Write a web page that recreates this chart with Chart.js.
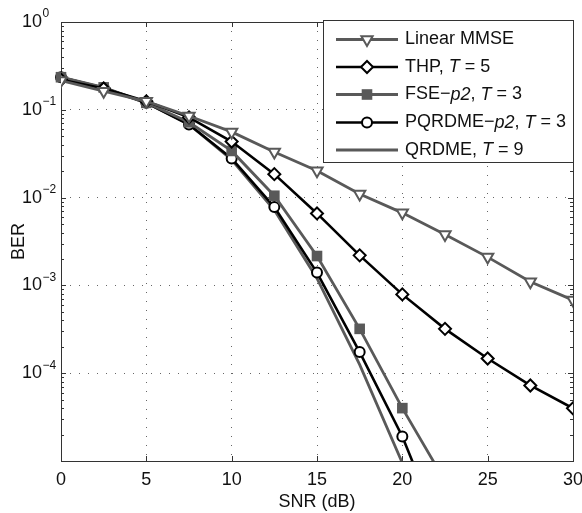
<!DOCTYPE html>
<html lang="en">
<head>
  <meta charset="UTF-8" />
  <title>BER vs SNR</title>
  <script src="https://cdn.jsdelivr.net/npm/chart.js"></script>
  <style>
    body {
      margin: 0;
      background: #fff;
    }
    #chart-container {
      width: 582px;
      height: 513px;
    }
  </style>
</head>
<body>

  <div id="chart-container">
    <canvas id="berChart" width="582" height="513"></canvas>
  </div>

  <script>
    // SNR points (dB)
    const snr = [0, 2.5, 5, 7.5, 10, 12.5, 15, 17.5, 20, 22.5, 25, 27.5, 30];

    // BER per scheme (null = not plotted)
    const linearMmse = [0.215, 0.163, 0.125, 0.085, 0.056, 0.033, 0.0202, 0.011, 0.0067, 0.0038, 0.0021, 0.0011, 0.00068];
    const thp = [0.22, 0.175, 0.125, 0.082, 0.0435, 0.0185, 0.0066, 0.0022, 0.00079, 0.00032, 0.000147, 0.0000725, 0.0000398];
    const fseP2 = [0.235, 0.18, 0.12, 0.072, 0.034, 0.0105, 0.00216, 0.00032, 0.00004, 0.0000059, null, null, null];
    const pqrdmeP2 = [0.235, 0.178, 0.12, 0.068, 0.0279, 0.0078, 0.0014, 0.000174, 0.000019, 0.0000012, null, null, null];
    const qrdme = [0.23, 0.175, 0.12, 0.068, 0.027, 0.0072, 0.0012, 0.000125, 0.0000095, 0.00000085, null, null, null];

    // legend text, parts flagged italic
    const legendLabels = [
      [['Linear MMSE', false]],
      [['THP, ', false], ['T', true], [' = 5', false]],
      [['FSE\u2212', false], ['p2', true], [', ', false], ['T', true], [' = 3', false]],
      [['PQRDME\u2212', false], ['p2', true], [', ', false], ['T', true], [' = 3', false]],
      [['QRDME, ', false], ['T', true], [' = 9', false]]
    ];

    // axis ticks
    const xTicks = [0, 5, 10, 15, 20, 25, 30];
    const yExponents = [0, -1, -2, -3, -4];
    const yMin = 1e-5;
    const yMax = 1;

    const GRAY = '#595959';
    const FONT = '"Liberation Sans", Arial, sans-serif';

    function series(values) {
      return values.map((v, i) => ({ x: snr[i], y: v }));
    }

    const clipBottom = { left: 10, top: 10, right: 10, bottom: 0 };

    const datasets = [
      {
        label: 'Linear MMSE',
        data: series(linearMmse),
        borderColor: GRAY,
        backgroundColor: '#fff',
        borderWidth: 2.8,
        pointStyle: 'triangle',
        rotation: 180,
        pointRadius: 6.5,
        pointBorderWidth: 2,
        pointBorderColor: GRAY,
        pointBackgroundColor: '#fff'
      },
      {
        label: 'THP, T = 5',
        data: series(thp),
        borderColor: '#000',
        borderWidth: 2.6,
        pointStyle: 'rectRot',
        pointRadius: 6,
        pointBorderWidth: 2,
        pointBorderColor: '#000',
        pointBackgroundColor: '#fff'
      },
      {
        label: 'FSE-p2, T = 3',
        data: series(fseP2),
        borderColor: GRAY,
        borderWidth: 2.8,
        pointStyle: 'rect',
        pointRadius: 7.5,
        pointBorderWidth: 0,
        pointBorderColor: GRAY,
        pointBackgroundColor: GRAY,
        clip: clipBottom
      },
      {
        label: 'PQRDME-p2, T = 3',
        data: series(pqrdmeP2),
        borderColor: '#000',
        borderWidth: 2.6,
        pointStyle: 'circle',
        pointRadius: 5,
        pointBorderWidth: 2,
        pointBorderColor: '#000',
        pointBackgroundColor: '#fff',
        clip: clipBottom
      },
      {
        label: 'QRDME, T = 9',
        data: series(qrdme),
        borderColor: GRAY,
        borderWidth: 2.8,
        pointRadius: 0,
        clip: clipBottom
      }
    ];

    // frame + inward ticks, MATLAB style
    const framePlugin = {
      id: 'frame',
      beforeDatasetsDraw(chart) {
        const { ctx, chartArea: a, scales } = chart;
        ctx.save();
        ctx.strokeStyle = '#333';
        ctx.lineWidth = 1;
        ctx.strokeRect(a.left + 0.5, a.top + 0.5, a.right - a.left, a.bottom - a.top);
        ctx.beginPath();
        xTicks.forEach(t => {
          const px = Math.round(scales.x.getPixelForValue(t)) + 0.5;
          ctx.moveTo(px, a.bottom); ctx.lineTo(px, a.bottom - 5);
          ctx.moveTo(px, a.top); ctx.lineTo(px, a.top + 5);
        });
        for (let e = -5; e <= 0; e++) {
          const py = Math.round(scales.y.getPixelForValue(Math.pow(10, e))) + 0.5;
          ctx.moveTo(a.left, py); ctx.lineTo(a.left + 5, py);
          ctx.moveTo(a.right, py); ctx.lineTo(a.right - 5, py);
          if (e < 0) {
            for (let m = 2; m <= 9; m++) {
              const pm = Math.round(scales.y.getPixelForValue(m * Math.pow(10, e))) + 0.5;
              ctx.moveTo(a.left, pm); ctx.lineTo(a.left + 3, pm);
              ctx.moveTo(a.right, pm); ctx.lineTo(a.right - 3, pm);
            }
          }
        }
        ctx.stroke();
        ctx.restore();
      },
      afterDraw(chart) {
        const { ctx, chartArea: a, scales } = chart;
        ctx.save();
        ctx.fillStyle = '#111';
        ctx.textBaseline = 'middle';
        yExponents.forEach(e => {
          const py = scales.y.getPixelForValue(Math.pow(10, e));
          ctx.font = '18px ' + FONT;
          ctx.textAlign = 'right';
          ctx.fillText('10', 42, py);
          ctx.font = '12px ' + FONT;
          ctx.textAlign = 'left';
          ctx.fillText(e === 0 ? '0' : '\u2212' + (-e), 42.5, py - 8);
        });
        ctx.font = '18px ' + FONT;
        ctx.textAlign = 'center';
        ctx.translate(19, (a.top + a.bottom) / 2);
        ctx.rotate(-Math.PI / 2);
        ctx.fillText('BER', 0, 0);
        ctx.restore();
      }
    };

    // legend with line + marker samples
    const legendPlugin = {
      id: 'matLegend',
      afterDatasetsDraw(chart) {
        const ctx = chart.ctx;
        const box = { x: 323.5, y: 20.5, w: 250, h: 142 };
        const rowY = [39.5, 67, 94.5, 122.5, 150];
        ctx.save();
        ctx.fillStyle = '#fff';
        ctx.fillRect(box.x, box.y, box.w, box.h);
        ctx.strokeStyle = '#333';
        ctx.lineWidth = 1;
        ctx.strokeRect(box.x, box.y, box.w, box.h);
        chart.data.datasets.forEach((ds, i) => {
          const y = rowY[i];
          ctx.strokeStyle = ds.borderColor;
          ctx.lineWidth = ds.borderWidth;
          ctx.beginPath();
          ctx.moveTo(336, y);
          ctx.lineTo(398, y);
          ctx.stroke();
          if (ds.pointRadius > 0) {
            ctx.fillStyle = ds.pointBackgroundColor;
            ctx.strokeStyle = ds.pointBorderColor;
            ctx.lineWidth = ds.pointBorderWidth;
            Chart.helpers.drawPoint(ctx, {
              pointStyle: ds.pointStyle,
              radius: ds.pointRadius,
              rotation: ds.rotation || 0,
              borderWidth: ds.pointBorderWidth
            }, 367, y);
          }
          let x = 405;
          ctx.fillStyle = '#111';
          ctx.textBaseline = 'middle';
          ctx.textAlign = 'left';
          legendLabels[i].forEach(([txt, it]) => {
            ctx.font = (it ? 'italic ' : '') + '18px ' + FONT;
            ctx.fillText(txt, x, y);
            x += ctx.measureText(txt).width;
          });
        });
        ctx.restore();
      }
    };

    const ctx = document.getElementById('berChart').getContext('2d');
    const chart = new Chart(ctx, {
      type: 'line',
      data: { datasets },
      options: {
        responsive: false,
        animation: false,
        devicePixelRatio: 1,
        layout: { padding: { top: 22, right: 9, left: 0, bottom: 0 } },
        plugins: {
          legend: { display: false },
          tooltip: { enabled: false }
        },
        scales: {
          x: {
            type: 'linear',
            min: 0,
            max: 30,
            afterBuildTicks: scale => { scale.ticks = xTicks.map(v => ({ value: v })); },
            afterFit: scale => {
              scale.height = 52;
              scale.paddingLeft = 0;
              scale.paddingRight = 0;
            },
            ticks: {
              color: '#111',
              padding: 8,
              maxRotation: 0,
              font: { family: FONT, size: 18 }
            },
            grid: { color: '#666', lineWidth: 1, drawTicks: false },
            border: { display: false, dash: [1, 8] },
            title: {
              display: true,
              text: 'SNR (dB)',
              color: '#111',
              padding: { top: 0, bottom: 0 },
              font: { family: FONT, size: 18 }
            }
          },
          y: {
            type: 'logarithmic',
            min: yMin,
            max: yMax,
            afterBuildTicks: scale => { scale.ticks = yExponents.map(e => ({ value: Math.pow(10, e) })); },
            afterFit: scale => { scale.width = 61; },
            ticks: { display: false },
            grid: { color: '#666', lineWidth: 1, drawTicks: false },
            border: { display: false, dash: [1, 8] }
          }
        }
      },
      plugins: [framePlugin, legendPlugin]
    });
  </script>

</body>
</html>
